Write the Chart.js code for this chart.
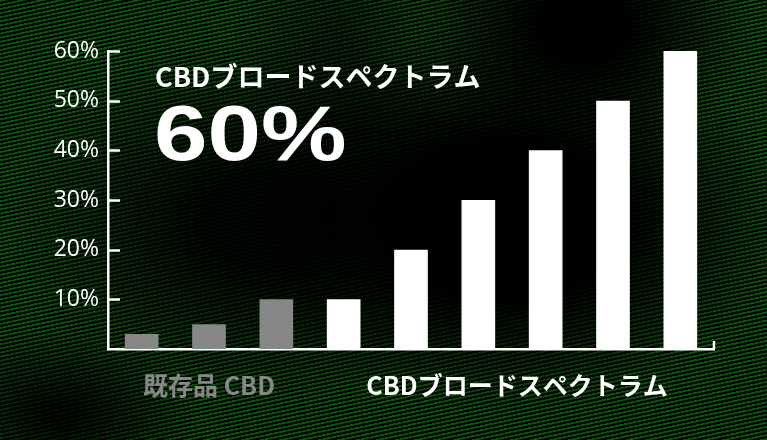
<!DOCTYPE html>
<html>
<head>
<meta charset="utf-8">
<script src="https://cdn.jsdelivr.net/npm/chart.js@4"></script>
<style>
  html, body { margin: 0; padding: 0; }
  body {
    width: 767px; height: 440px; overflow: hidden;
    background-color: #000;
    background-image:
      radial-gradient(ellipse 36% 44% at 66% 50%, rgba(0,0,0,1) 40%, rgba(0,0,0,0) 100%),
      radial-gradient(ellipse 22% 30% at 76% 6%, rgba(0,0,0,1) 25%, rgba(0,0,0,0) 100%),
      radial-gradient(ellipse 34% 42% at 35% 50%, rgba(0,0,0,0.9) 25%, rgba(0,0,0,0) 100%),
      radial-gradient(ellipse 18% 20% at 8% 94%, rgba(0,0,0,0.85) 10%, rgba(0,0,0,0) 100%),
      radial-gradient(ellipse 14% 30% at 44% 10%, rgba(0,0,0,0.5) 10%, rgba(0,0,0,0) 100%),
      repeating-linear-gradient(168deg, #0b550b 0px, #0b550b 1.3px, #000 2.5px, #000 4px);
  }
  #wrap { position: absolute; left: 0; top: 0; width: 767px; height: 440px; }
</style>
</head>
<body>
<div id="wrap"><canvas id="myChart" width="767" height="440"></canvas></div>
<script>
// data
const categories = ['既存品1', '既存品2', '既存品3', 'BS1', 'BS2', 'BS3', 'BS4', 'BS5', 'BS6']
const values = [3, 5, 10, 10, 20, 30, 40, 50, 60]
const groupOf = [0, 0, 0, 1, 1, 1, 1, 1, 1]
const groupLabels = ['既存品 CBD', 'CBDブロードスペクトラム']
const groupColors = ['#878787', '#ffffff']
const yTicks = [0, 10, 20, 30, 40, 50, 60]
const headline = 'CBDブロードスペクトラム'

const jpFont = '"Noto Sans CJK JP", "Noto Sans", sans-serif'

// short inward tick marks + right end cap of the x axis
const tickMarks = {
  id: 'tickMarks',
  afterDraw(chart) {
    const ctx = chart.ctx
    const y = chart.scales.y
    const area = chart.chartArea
    ctx.save()
    ctx.strokeStyle = '#fff'
    ctx.lineWidth = 2.5
    yTicks.forEach(v => {
      if (v === 0) return
      const py = Math.round(y.getPixelForValue(v)) + 0.5
      ctx.beginPath()
      ctx.moveTo(area.left, py)
      ctx.lineTo(area.left + 12, py)
      ctx.stroke()
    })
    ctx.beginPath()
    ctx.moveTo(area.right, area.bottom)
    ctx.lineTo(area.right, area.bottom - 8)
    ctx.stroke()
    ctx.restore()
  }
}

// group names under the axis, headline text
const labelsPlugin = {
  id: 'labelsPlugin',
  afterDraw(chart) {
    const ctx = chart.ctx
    const x = chart.scales.x
    const area = chart.chartArea
    ctx.save()
    ctx.textAlign = 'center'
    ctx.textBaseline = 'middle'
    ctx.font = 'bold 25px ' + jpFont
    groupLabels.forEach((name, g) => {
      const idx = groupOf.map((gg, i) => gg === g ? i : -1).filter(i => i >= 0)
      const cx = (x.getPixelForValue(idx[0]) + x.getPixelForValue(idx[idx.length - 1])) / 2
      ctx.fillStyle = groupColors[g]
      ctx.fillText(name, cx + (g === 1 ? 5 : 0), area.bottom + 36)
    })

    // headline
    ctx.textAlign = 'left'
    ctx.fillStyle = '#fff'
    ctx.font = 'bold 27px ' + jpFont
    ctx.textBaseline = 'middle'
    ctx.fillText(headline, area.left + 47, area.top + 26)

    const big = Math.max(...values) + '%'
    ctx.font = 'bold 77px "Liberation Sans", Arial, sans-serif'
    ctx.textBaseline = 'alphabetic'
    ctx.translate(area.left + 46, area.top + 109)
    ctx.scale(1.25, 1)
    ctx.fillText(big, 0, 0)
    ctx.restore()
  }
}

const ctx = document.getElementById('myChart')
const myBarChart = new Chart(ctx, {
  type: 'bar',
  data: {
    labels: categories,
    datasets: [
      {
        data: values,
        backgroundColor: values.map((v, i) => groupColors[groupOf[i]]),
        borderWidth: 0,
        barPercentage: 0.5,
        categoryPercentage: 1
      }
    ]
  },
  options: {
    responsive: false,
    animation: false,
    layout: { padding: { left: 0, right: 53, top: 51, bottom: 91 } },
    plugins: {
      legend: { display: false },
      tooltip: { enabled: false },
      title: { display: false }
    },
    scales: {
      x: {
        grid: { display: false, drawTicks: false },
        border: { display: true, color: '#fff', width: 2.5 },
        ticks: { display: false },
        afterFit: s => { s.height = 0 }
      },
      y: {
        min: 0,
        max: 60,
        grid: { display: false, drawTicks: false },
        border: { display: true, color: '#fff', width: 2.5 },
        afterBuildTicks: s => { s.ticks = yTicks.map(v => ({ value: v })) },
        afterFit: s => { s.width = 108 },
        ticks: {
          color: '#fff',
          padding: 9,
          font: { family: '"Open Sans", sans-serif', size: 23 },
          callback: v => v === 0 ? '' : v + '%'
        }
      }
    }
  },
  plugins: [tickMarks, labelsPlugin]
})
</script>
</body>
</html>
